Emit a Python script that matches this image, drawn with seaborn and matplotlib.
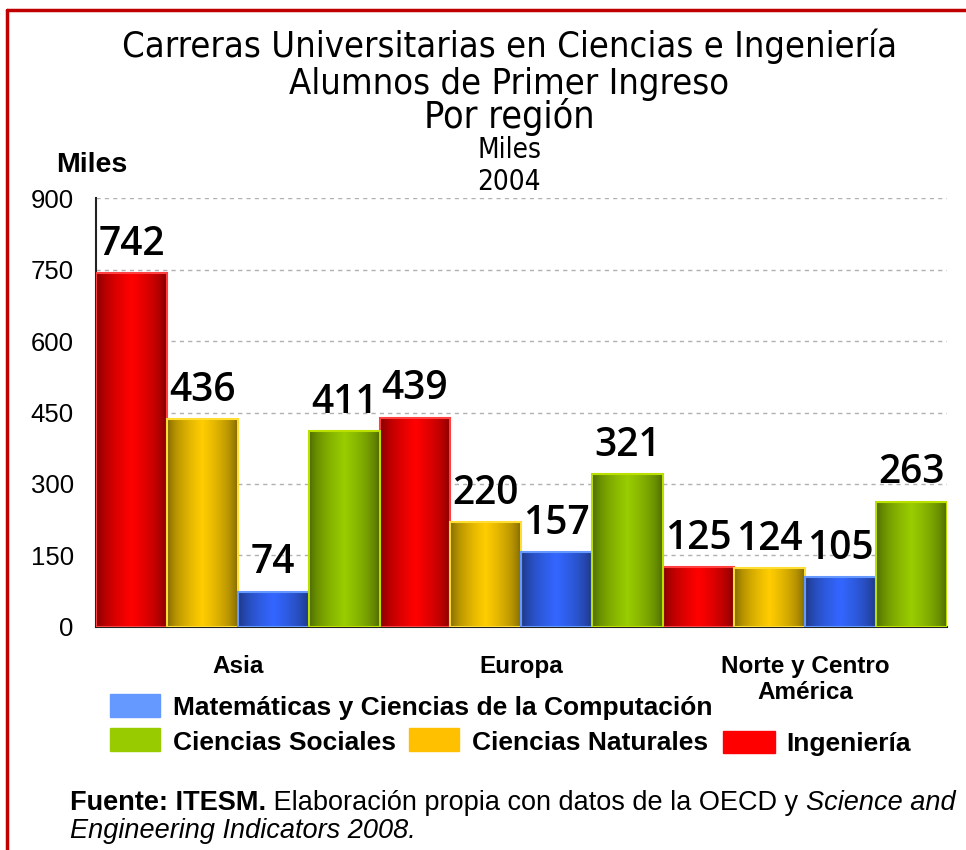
import matplotlib
matplotlib.use("Agg")
import matplotlib.pyplot as plt
import numpy as np
import pandas as pd
import seaborn as sns
from matplotlib.colors import LinearSegmentedColormap
from matplotlib.patches import Rectangle
from matplotlib.lines import Line2D

# data (miles de alumnos, 2004)
regiones = ["Asia", "Europa", "Norte y Centro\nAmérica"]
areas = ["Ingeniería", "Ciencias Naturales",
         "Matemáticas y Ciencias de la Computación", "Ciencias Sociales"]
ingenieria = [742, 439, 125]
naturales = [436, 220, 124]
matematicas = [74, 157, 105]
sociales = [411, 321, 263]

colores = {"Ingeniería": "#FF0000", "Ciencias Naturales": "#FFCC00",
           "Matemáticas y Ciencias de la Computación": "#3366FF",
           "Ciencias Sociales": "#99CC00"}
oscuros = {"Ingeniería": "#6E0000", "Ciencias Naturales": "#6E5A00",
           "Matemáticas y Ciencias de la Computación": "#1A3070",
           "Ciencias Sociales": "#405A00"}
bordes = {"Ingeniería": "#FF4040", "Ciencias Naturales": "#FFDD33",
          "Matemáticas y Ciencias de la Computación": "#6699FF",
          "Ciencias Sociales": "#BBE000"}

rows = []
for area, vals in zip(areas, [ingenieria, naturales, matematicas, sociales]):
    for reg, v in zip(regiones, vals):
        rows.append({"region": reg, "area": area, "valor": v})
df = pd.DataFrame(rows)

sns.set_style("white")
plt.rcParams['font.family'] = ['Liberation Sans', 'DejaVu Sans']
plt.rcParams['text.color'] = 'black'
plt.rcParams['xtick.color'] = 'black'
plt.rcParams['ytick.color'] = 'black'
plt.rcParams['xtick.labelcolor'] = 'black'
plt.rcParams['ytick.labelcolor'] = 'black'
COND = ['DejaVu Sans']

fig = plt.figure(figsize=(9.66, 8.5), dpi=100)
ax = fig.add_axes([0.0994, 0.2624, 0.8806, 0.5046])

sns.barplot(data=df, x="region", y="valor", hue="area", hue_order=areas,
            order=regiones, palette=colores, width=1.0, dodge=True,
            legend=False, ax=ax, zorder=3)

# horizontal gradient on each bar
grad = np.concatenate([np.linspace(0, 1, 50), np.linspace(1, 0, 50)])
grad = np.sqrt(grad)[None, :]
for area, cont in zip(areas, ax.containers):
    cmap = LinearSegmentedColormap.from_list(area, [oscuros[area], colores[area]])
    for p in cont.patches:
        x0, w, h = p.get_x(), p.get_width(), p.get_height()
        ax.imshow(grad, extent=[x0, x0 + w, 0, h], aspect='auto', cmap=cmap,
                  zorder=3, interpolation='bilinear')
        p.set_facecolor('none')
        p.set_edgecolor(bordes[area])
        p.set_linewidth(1.5)
        p.set_zorder(4)
    ax.bar_label(cont, padding=6, fontsize=28, fontweight=600,
                 family=['Open Sans', 'DejaVu Sans'], zorder=5)
ax.set_xlim(-0.5, 2.5)
ax.set_ylim(0, 900)

# axes styling
ax.set_yticks(np.arange(0, 901, 150))
ax.tick_params(axis='y', labelsize=18.5, direction='inout', length=12, width=1.2, pad=10)
ax.yaxis.grid(True, linestyle=(0, (3, 3)), color='#B0B0B0', linewidth=1, zorder=0)
ax.set_xticks([-0.5, 0.5, 1.5, 2.5])
ax.set_xticklabels([])
ax.tick_params(axis='x', which='major', direction='out', length=9, width=1.2)
ax.set_xticks([0, 1, 2], minor=True)
ax.set_xticklabels(regiones, minor=True, fontsize=17.5, fontweight='bold')
ax.tick_params(axis='x', which='minor', length=0, pad=20)
ax.set_xlabel("")
ax.set_ylabel("")
for s in ['top', 'right']:
    ax.spines[s].set_visible(False)
for s in ['left', 'bottom']:
    ax.spines[s].set_color('#222222')
    ax.spines[s].set_linewidth(1.5)

# titles
fig.text(0.527, 0.945, "Carreras Universitarias en Ciencias e Ingeniería",
         ha='center', va='center', fontsize=26, family=COND, fontstretch='condensed')
fig.text(0.527, 0.901, "Alumnos de Primer Ingreso",
         ha='center', va='center', fontsize=26, family=COND, fontstretch='condensed')
fig.text(0.527, 0.862, "Por región", ha='center', va='center', fontsize=27,
         family=COND, fontstretch='condensed')
fig.text(0.527, 0.824, "Miles", ha='center', va='center', fontsize=20,
         family=COND, fontstretch='condensed')
fig.text(0.527, 0.786, "2004", ha='center', va='center', fontsize=20,
         family=COND, fontstretch='condensed')
fig.text(0.095, 0.806, "Miles", ha='center', va='center', fontsize=20.5, fontweight='bold')

# legend drawn by hand (irregular layout)
def leg(x, y, w, h, color, label, tx, ty):
    fig.add_artist(Rectangle((x / 966, 1 - (y + h) / 850), w / 966, h / 850,
                             transform=fig.transFigure, color=color))
    fig.text(tx / 966, 1 - ty / 850, label, ha='left', va='baseline',
             fontsize=19, fontweight='bold')

leg(110, 694, 50, 23, "#6699FF", "Matemáticas y Ciencias de la Computación", 173, 715)
leg(110, 728, 50, 23, "#99CC00", "Ciencias Sociales", 173, 750)
leg(409, 728, 50, 23, "#FFC000", "Ciencias Naturales", 472, 750)
leg(723, 731, 52, 22, "#FF0000", "Ingeniería", 786, 751)

# footnote
t1 = fig.text(70 / 966, 1 - 810 / 850, "Fuente: ITESM.", fontsize=19.5,
              fontweight='bold', va='baseline')
t2 = fig.text(0, 0, " Elaboración propia con datos de la OECD y ", fontsize=19.5,
              va='baseline')
t3 = fig.text(0, 0, "Science and", fontsize=19.5, style='italic', va='baseline')
fig.canvas.draw()
r = fig.canvas.get_renderer()
x = t1.get_window_extent(r).x1
t2.set_position((x / fig.bbox.width, 1 - 810 / 850))
x = t2.get_window_extent(r).x1
t3.set_position((x / fig.bbox.width, 1 - 810 / 850))
fig.text(70 / 966, 1 - 838 / 850, "Engineering Indicators 2008.", fontsize=19.5,
         style='italic', va='baseline')

# red frame
fig.add_artist(Line2D([7 / 966, 7 / 966], [0, 1 - 10 / 850], color='#C00000',
                      linewidth=2.5, transform=fig.transFigure))
fig.add_artist(Line2D([7 / 966, 1], [1 - 10 / 850, 1 - 10 / 850], color='#C00000',
                      linewidth=2.5, transform=fig.transFigure))

fig.savefig("out.png", dpi=100)
